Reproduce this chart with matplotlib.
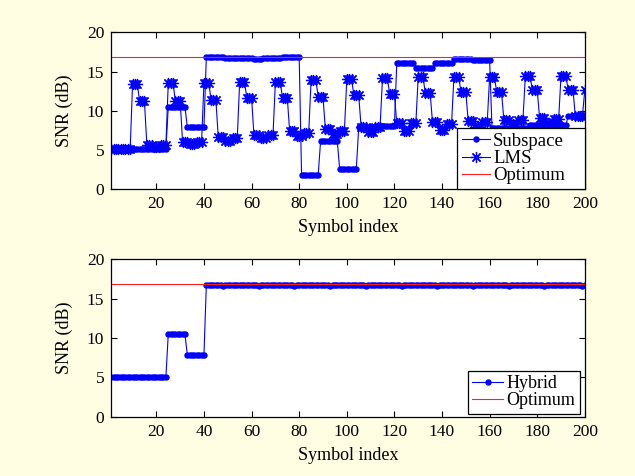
import matplotlib
matplotlib.use('Agg')
import matplotlib.pyplot as plt
import numpy as np

plt.rcParams['font.family'] = ['Liberation Serif', 'DejaVu Serif']

# ---------------------------------------------------------------------------
# data (piecewise levels + their run lengths)

symbol_index = np.arange(1, 201)

subspace_levels = [5.1, 10.5, 8.0, 16.9, 16.75, 16.6, 16.75, 16.9, 1.9, 6.2, 2.6,
                   7.9, 8.1, 16.15, 15.45, 16.05, 16.6, 16.45, 7.8, 8.2, 9.3]
subspace_lengths = [24, 8, 8, 8, 12, 4, 8, 8, 8, 8, 8,
                    8, 8, 8, 8, 8, 8, 8, 16, 16, 8]

lms_levels = [5.1,
              13.4, 11.2, 5.7, 5.4, 5.6,
              13.5, 11.3, 6.1, 5.8, 6.1,
              13.6, 11.4, 6.7, 6.2, 6.6,
              13.7, 11.7, 6.9, 6.5, 6.9,
              13.7, 11.7, 7.4, 6.8, 7.2,
              13.9, 11.8, 7.7, 7.0, 7.5,
              14.0, 12.0, 8.0, 7.3, 8.0,
              14.2, 12.2, 8.4, 7.4, 8.4,
              14.3, 12.3, 8.6, 7.6, 8.3,
              14.3, 12.4, 8.7, 7.9, 8.6,
              14.3, 12.4, 8.8, 8.3, 8.9,
              14.4, 12.6, 9.1, 8.4, 9.0,
              14.5, 12.7, 9.4, 12.7]
lms_lengths = [9] + [3, 3, 3, 3, 3] * 12 + [3, 3, 4, 1]

hybrid_levels = [5.0, 10.5, 7.9, 16.75, 16.55,
                 16.75, 16.55, 16.75, 16.55, 16.75, 16.55, 16.75, 16.55,
                 16.75, 16.55, 16.75, 16.55, 16.75, 16.55, 16.75, 16.55,
                 16.75, 16.55, 16.75, 16.55, 16.75]
hybrid_lengths = [24, 8, 8, 7, 1,
                  14, 1, 14, 1, 14, 1, 14, 1,
                  14, 1, 14, 1, 14, 1, 14, 1,
                  14, 1, 15, 1, 1]

optimum_snr = 16.9

subspace = np.repeat(subspace_levels, subspace_lengths)
lms = np.repeat(lms_levels, lms_lengths)
hybrid = np.repeat(hybrid_levels, hybrid_lengths)

# ---------------------------------------------------------------------------

fig = plt.figure(figsize=(6.35, 4.76), dpi=100, facecolor='#fffee3')
ax1 = fig.add_axes([0.175, 0.602, 0.746, 0.330])
ax2 = fig.add_axes([0.175, 0.1246, 0.746, 0.3306])

blue = '#0000ff'
red = '#ff2020'
star = (8, 2, 0)

ax1.plot(symbol_index, subspace, '-', color=blue, lw=0.8, marker='o',
         ms=3.6, mec=blue, mfc=blue, label='Subspace')
ax1.plot(symbol_index, lms, '-', color=blue, lw=0.8, marker=star,
         ms=8, mew=0.9, mec=blue, label='LMS')
ax1.plot([1, 200], [optimum_snr, optimum_snr], '-', color=red, lw=0.8,
         label='Optimum')

ax2.plot(symbol_index, hybrid, '-', color=blue, lw=0.8, marker='o',
         ms=3.6, mec=blue, mfc=blue, label='Hybrid')
ax2.plot([1, 200], [optimum_snr, optimum_snr], '-', color=red, lw=0.8,
         label='Optimum')

for ax in (ax1, ax2):
    ax.set_xlim(1, 200)
    ax.set_ylim(0, 20)
    ax.set_xticks(np.arange(20, 201, 20))
    ax.set_yticks(np.arange(0, 21, 5))
    ax.tick_params(direction='in', top=True, right=True, length=4,
                   width=0.8, labelsize=12.5, pad=5)
    for s in ax.spines.values():
        s.set_linewidth(0.9)
    ax.set_xlabel('Symbol index', fontsize=13, labelpad=5)
    ax.set_ylabel('SNR (dB)', fontsize=13, labelpad=10)

# top legend: MATLAB style box flush in the lower right corner
leg1 = ax1.legend(loc='lower left', bbox_to_anchor=(0.730, 0.0, 0.270, 0.39),
                  mode='expand', borderaxespad=0.0, fontsize=13.5,
                  fancybox=False, edgecolor='black', framealpha=1,
                  handlelength=1.5, handletextpad=0.15, labelspacing=0.0,
                  borderpad=0.28)
leg1.get_frame().set_linewidth(0.9)
leg2 = ax2.legend(loc='lower right', bbox_to_anchor=(0.99, 0.02),
                  borderaxespad=0.0, fontsize=13, fancybox=False,
                  edgecolor='black', framealpha=1, handlelength=1.7,
                  handletextpad=0.2, labelspacing=0.0, borderpad=0.25)
leg2.get_frame().set_linewidth(0.9)

fig.savefig('out.png', dpi=100, facecolor=fig.get_facecolor())
